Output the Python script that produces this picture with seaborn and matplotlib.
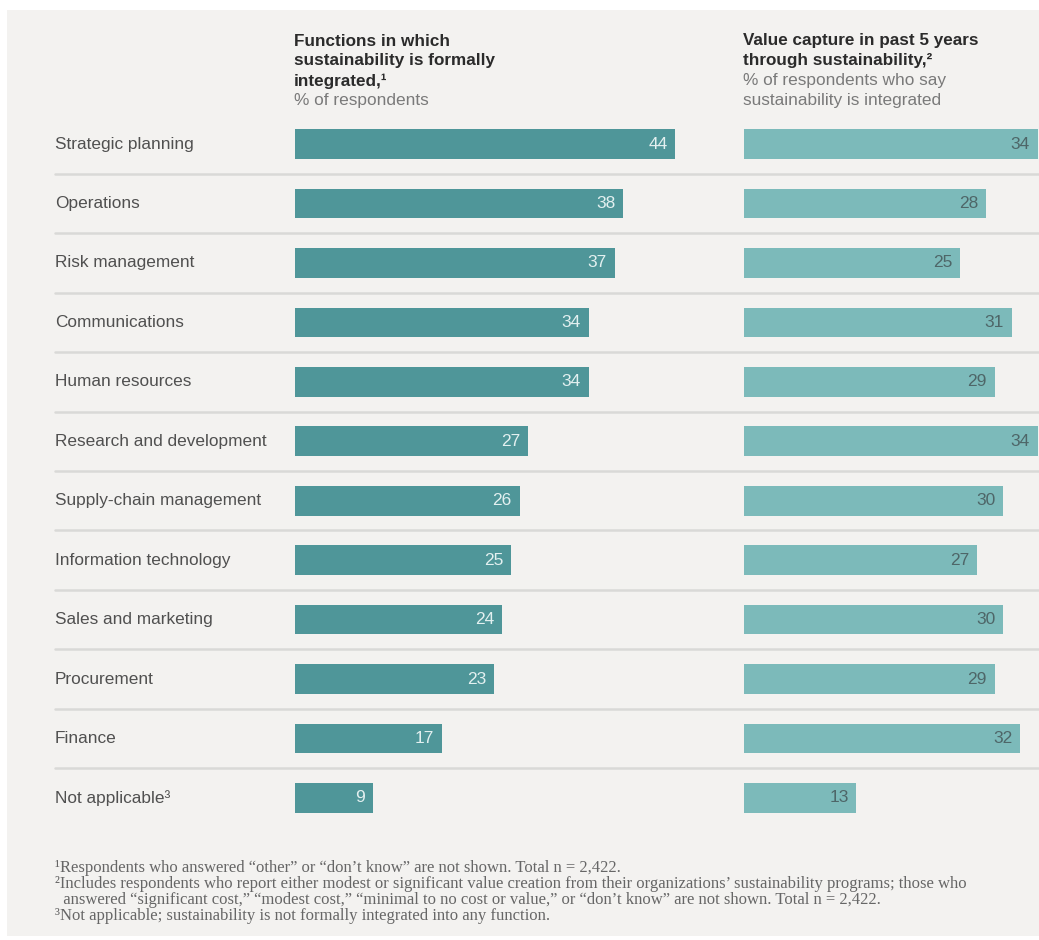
import matplotlib
matplotlib.use('Agg')
import matplotlib.pyplot as plt
from matplotlib.lines import Line2D
from matplotlib.patches import Rectangle
import matplotlib.transforms as mtransforms
import seaborn as sns
import pandas as pd

# Данные
functions = ['Strategic planning', 'Operations', 'Risk management', 'Communications',
             'Human resources', 'Research and development', 'Supply-chain management',
             'Information technology', 'Sales and marketing', 'Procurement', 'Finance',
             'Not applicable\u00b3']
integrated = [44, 38, 37, 34, 34, 27, 26, 25, 24, 23, 17, 9]
value_capture = [34, 28, 25, 31, 29, 34, 30, 27, 30, 29, 32, 13]

left_title = ['Functions in which', 'sustainability is formally', 'integrated,\u00b9']
left_sub = ['% of respondents']
right_title = ['Value capture in past 5 years', 'through sustainability,\u00b2']
right_sub = ['% of respondents who say', 'sustainability is integrated']
footnotes = [
    '\u00b9Respondents who answered \u201cother\u201d or \u201cdon\u2019t know\u201d are not shown. Total n = 2,422.',
    '\u00b2Includes respondents who report either modest or significant value creation from their organizations\u2019 sustainability programs; those who',
    '  answered \u201csignificant cost,\u201d \u201cmodest cost,\u201d \u201cminimal to no cost or value,\u201d or \u201cdon\u2019t know\u201d are not shown. Total n = 2,422.',
    '\u00b3Not applicable; sustainability is not formally integrated into any function.',
]

df = pd.DataFrame({'function': functions, 'integrated': integrated, 'value': value_capture})

sns.set_theme(style='white')
plt.rcParams['font.family'] = ['Liberation Sans', 'DejaVu Sans']

W, H = 1039, 940
bg = '#f3f2f0'
c_left = '#4f9699'
c_right = '#7cbaba'
px = 8.64  # пикселей на один процент

fig = plt.figure(figsize=(W / 100, H / 100), dpi=100, facecolor='white')
fig.add_artist(Rectangle((7 / W, 1 - 936 / H), 1, (936 - 10) / H,
                         transform=fig.transFigure, facecolor=bg, edgecolor='none', zorder=-10))

top_px, bot_px = 144 - 29.7, 798 + 29.7
ax_b = 1 - bot_px / H
ax_h = (bot_px - top_px) / H
ax1 = fig.add_axes([295 / W, ax_b, 440 / W, ax_h])
ax2 = fig.add_axes([744 / W, ax_b, 295 / W, ax_h])

sns.barplot(data=df, x='integrated', y='function', orient='h', color=c_left,
            width=0.5, saturation=1, linewidth=0, ax=ax1)
sns.barplot(data=df, x='value', y='function', orient='h', color=c_right,
            width=0.5, saturation=1, linewidth=0, ax=ax2)

for ax, w, vals, tc in [(ax1, 440, integrated, '#e3f0f0'), (ax2, 295, value_capture, '#4e6668')]:
    ax.set_xlim(0, w / px)
    ax.set_ylim(len(functions) - 0.5, -0.5)
    ax.patch.set_alpha(0)
    ax.axis('off')
    for i, v in enumerate(vals):
        ax.text(v - 0.9, i, str(v), ha='right', va='center', fontsize=12.5, color=tc)

# Подписи категорий и разделители
trans = mtransforms.blended_transform_factory(fig.transFigure, ax1.transData)
for i, name in enumerate(functions):
    fig.text(55 / W, 0, name, transform=trans, fontsize=12.4, color='#505050',
             ha='left', va='center').set_y(i)
for i in range(len(functions) - 1):
    fig.add_artist(Line2D([55 / W, 1], [i + 0.5, i + 0.5], transform=trans,
                          color='#d9d9d7', lw=1.8, zorder=-5))

# Заголовки колонок
def header(x, title, sub):
    y = 41
    for line in title:
        fig.text(x / W, 1 - y / H, line, fontsize=12.3, fontweight='bold', color='#2b2b2b',
                 ha='left', va='center')
        y += 20
    for line in sub:
        fig.text(x / W, 1 - y / H, line, fontsize=12.4, color='#7a7a7a', ha='left', va='center')
        y += 20

header(294, left_title, left_sub)
header(743, right_title, right_sub)

# Сноски
for k, line in enumerate(footnotes):
    fig.text(55 / W, 1 - (868 + 16 * k) / H, line, fontsize=12, color='#666666',
             family=['Liberation Serif', 'DejaVu Serif'], ha='left', va='center')

fig.savefig('out.png', dpi=100, facecolor='white')
